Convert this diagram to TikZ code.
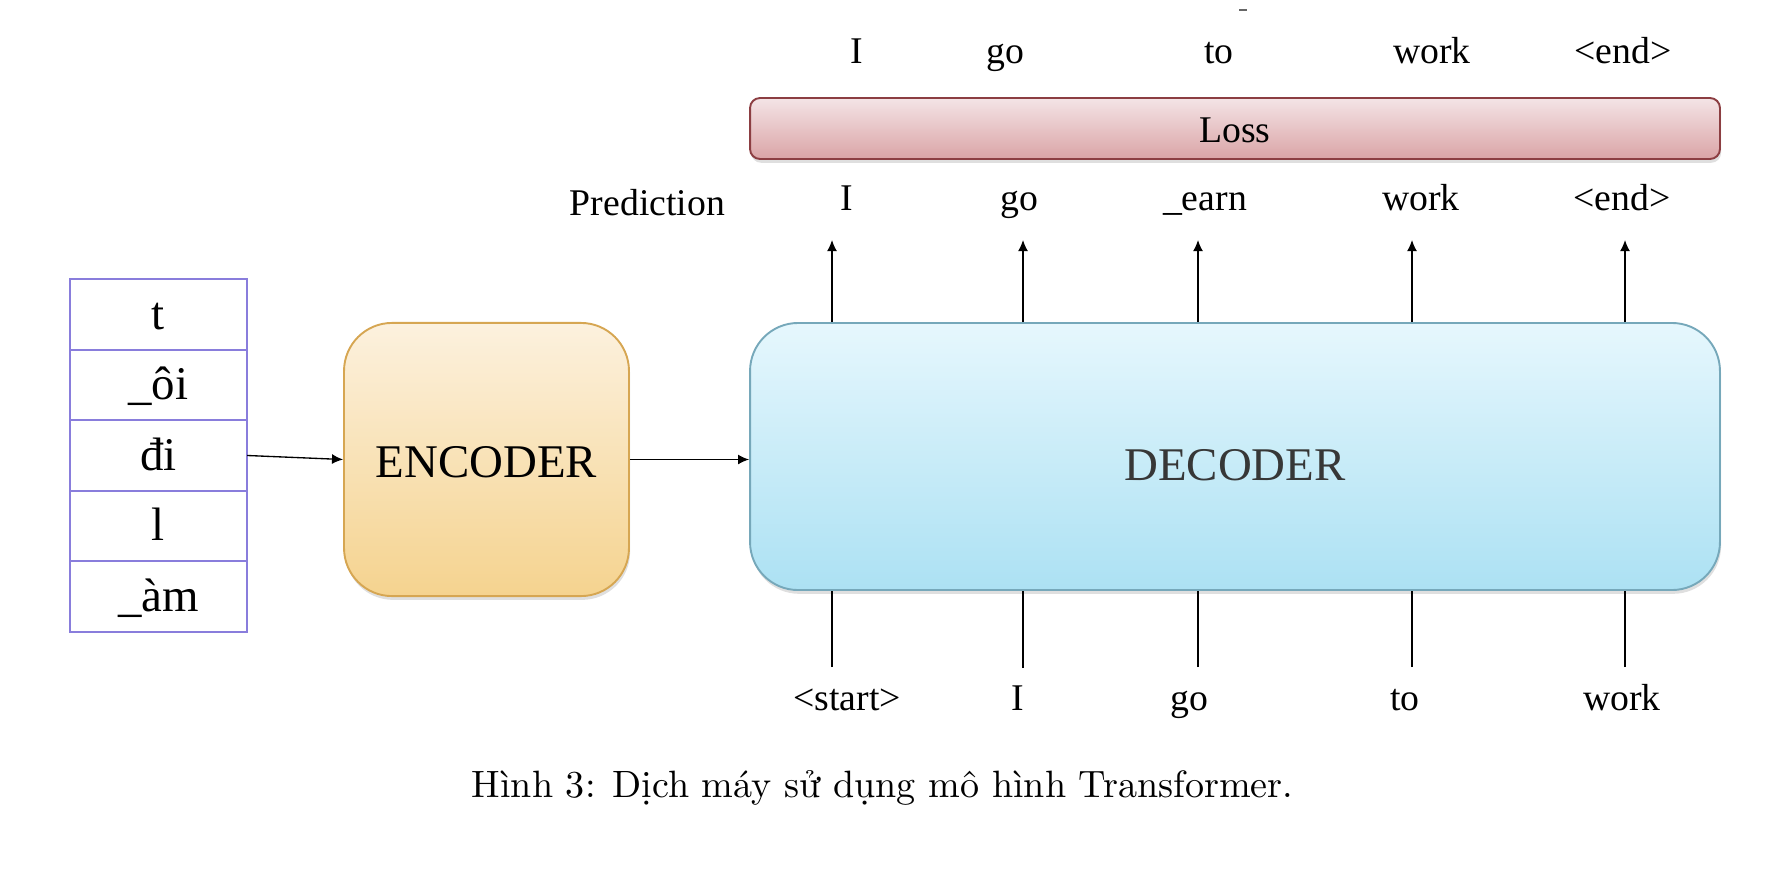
\documentclass[tikz,border=0pt]{standalone}
\usepackage{fontspec}
\newfontfamily\tnr{Liberation Serif}
\usepackage{xcolor}
\usepackage{tikz}
\usetikzlibrary{arrows.meta}
\usetikzlibrary{positioning}
\usetikzlibrary{shadows}

\definecolor{tokLine}{RGB}{137,125,220}
\definecolor{encTop}{RGB}{252,241,222}
\definecolor{encBot}{RGB}{245,211,143}
\definecolor{encLine}{RGB}{214,166,82}
\definecolor{decTop}{RGB}{230,247,253}
\definecolor{decBot}{RGB}{172,225,243}
\definecolor{decLine}{RGB}{118,168,186}
\definecolor{decText}{RGB}{55,55,55}
\definecolor{lossTop}{RGB}{244,228,230}
\definecolor{lossBot}{RGB}{218,164,166}
\definecolor{lossLine}{RGB}{140,62,66}

\begin{document}
\begin{tikzpicture}
[
	x = 0.2625pt, y = -0.2625pt,
	tok/.style	= {rectangle, draw = tokLine, line width = 0.55pt, minimum width = 46.5pt, minimum height = 18.53pt, inner sep = 0pt, outer sep = 0pt, font = \tnr\fontsize{12.3}{14}\selectfont, text height = 8.5pt, text depth = 0.7pt},
	box/.style	= {rectangle, rounded corners = 12.6pt, line width = 0.5pt, drop shadow = {opacity = 0.25, shadow xshift = 0.3pt, shadow yshift = -1pt}, font = \tnr\fontsize{12.3}{14}\selectfont},
	word/.style	= {anchor = base, inner sep = 0pt, font = \tnr\fontsize{9.9}{12}\selectfont},
	flow/.style	= {line width = 0.35pt, -{Latex[length = 2.9pt, width = 2.6pt]}},
	feed/.style	= {line width = 0.3pt},
]

	\useasboundingbox (0,0) rectangle (1786,870);

	% input tokens
	\node (tok1) [tok] at (158.5, 314.3) {t};
	\node (tok2) [tok, below = 0pt of tok1] {\_ôi};
	\node (tok3) [tok, below = 0pt of tok2] {đi};
	\node (tok4) [tok, below = 0pt of tok3] {l};
	\node (tok5) [tok, below = 0pt of tok4] {\_àm};
	%
	\node (enc) [box, top color = encTop, bottom color = encBot, draw = encLine, minimum width = 74.8pt, minimum height = 71.7pt, text height = 9.5pt, text depth = 0.3pt] at (486.5, 459.5) {ENCODER};
	\node (dec) [box, top color = decTop, bottom color = decBot, draw = decLine, text = decText, minimum width = 254.6pt, minimum height = 70.1pt, text height = 13pt, text depth = 0.6pt] at (1235, 456.5) {DECODER};
	\node (loss) [box, rounded corners = 2.6pt, top color = lossTop, bottom color = lossBot, draw = lossLine, minimum width = 254.6pt, minimum height = 16pt, font = \tnr\fontsize{9.9}{12}\selectfont, text height = 7.8pt, text depth = 0.2pt] at (1235, 128.5) {Loss};

	\draw [flow] (tok3.east) -- (enc.west);
	\draw [flow] (enc.east) -- (enc.east -| dec.west);

	% target words
	\node (tgt1) [word] at (857, 63) {I};
	\node (tgt2) [word] at (1005, 63) {go};
	\node (tgt3) [word] at (1219, 63) {to};
	\node (tgt4) [word] at (1432, 63) {work};
	\node (tgt5) [word] at (1623, 63) {<end>};
	%
	\node (pred) [word] at (647.5, 215) {Prediction};
	\node (pred1) [word] at (847, 210) {I};
	\node (pred2) [word] at (1019, 210) {go};
	\node (pred3) [word] at (1205, 210) {\_earn};
	\node (pred4) [word] at (1421, 210) {work};
	\node (pred5) [word] at (1622, 210) {<end>};
	%
	\node (in1) [word] at (847, 710) {<start>};
	\node (in2) [word] at (1018, 710) {I};
	\node (in3) [word] at (1189, 710) {go};
	\node (in4) [word] at (1405, 710) {to};
	\node (in5) [word] at (1622, 710) {work};

	\coordinate (up1) at (832, 240);
	\coordinate (up2) at (1023, 240);
	\coordinate (up3) at (1198, 240);
	\coordinate (up4) at (1412, 240);
	\coordinate (up5) at (1625, 240);
	%
	\coordinate (low1) at (832, 667);
	\coordinate (low2) at (1023, 668);
	\coordinate (low3) at (1198, 667);
	\coordinate (low4) at (1412, 667);
	\coordinate (low5) at (1625, 667);

	\draw [flow] (dec.north -| up1) -- (up1);
	\draw [flow] (dec.north -| up2) -- (up2);
	\draw [flow] (dec.north -| up3) -- (up3);
	\draw [flow] (dec.north -| up4) -- (up4);
	\draw [flow] (dec.north -| up5) -- (up5);
	%
	\draw [feed] (low1) -- (dec.south -| low1);
	\draw [feed] (low2) -- (dec.south -| low2);
	\draw [feed] (low3) -- (dec.south -| low3);
	\draw [feed] (low4) -- (dec.south -| low4);
	\draw [feed] (low5) -- (dec.south -| low5);

	\draw [black!60, line width = 0.3pt] (1239, 10) -- (1247, 10);

	\node (caption) [anchor = base, inner sep = 0pt, font = \fontsize{10}{12}\selectfont] at (882.5, 797) {Hình 3: Dịch máy sử dụng mô hình Transformer.};

\end{tikzpicture}
\end{document}
